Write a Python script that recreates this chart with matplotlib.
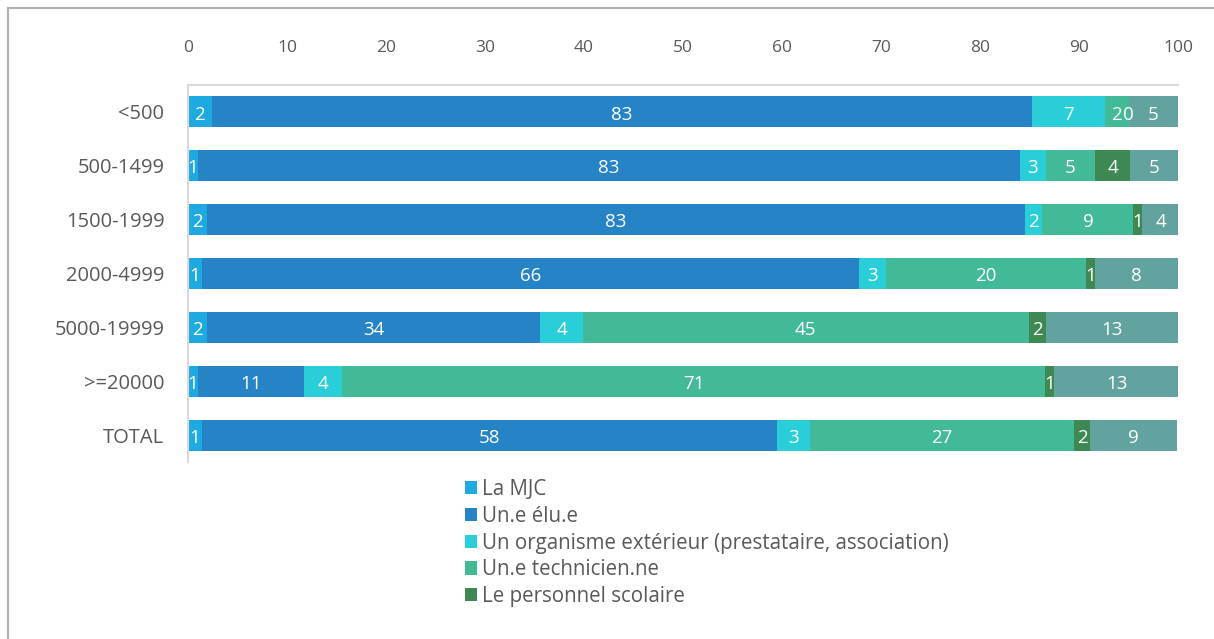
import matplotlib
matplotlib.use("Agg")
import matplotlib.pyplot as plt
from matplotlib.patches import Patch, Rectangle
import numpy as np

plt.rcParams['font.family'] = ['Open Sans', 'DejaVu Sans']

# categories (top to bottom)
categories = ['<500', '500-1499', '1500-1999', '2000-4999', '5000-19999', '>=20000', 'TOTAL']

# series values in %
mjc = [2.4, 1.0, 1.9, 1.4, 1.9, 1.0, 1.4]
elu = [82.9, 83.0, 82.6, 66.4, 33.7, 10.7, 58.1]
organisme = [7.3, 2.7, 1.8, 2.7, 4.3, 3.9, 3.3]
technicien = [2.4, 4.9, 9.2, 20.2, 45.0, 71.0, 26.7]
scolaire = [0.0, 3.6, 0.9, 0.9, 1.8, 0.9, 1.6]
autre = [5.0, 4.8, 3.7, 8.4, 13.3, 12.6, 8.8]

series_names = ['La MJC', 'Un.e élu.e', 'Un organisme extérieur (prestataire, association)',
                'Un.e technicien.ne', 'Le personnel scolaire', 'Autre']
series = [mjc, elu, organisme, technicien, scolaire, autre]
colors = ['#1FA9E1', '#2683C6', '#2ACED8', '#43BA97', '#3E8853', '#62A39F']

fig = plt.figure(figsize=(12.14, 6.39), dpi=100)
ax = fig.add_axes([188/1214, 1 - 462/639, 990/1214, 377/639])

y = np.arange(len(categories))
left = np.zeros(len(categories))
for vals, col in zip(series, colors):
    vals = np.array(vals)
    ax.barh(y, vals, left=left, height=0.575, color=col, edgecolor='none')
    for yi, (l, v) in enumerate(zip(left, vals)):
        lab = '%d' % int(round(v))
        ax.text(l + v / 2, yi + 0.05, lab, ha='center', va='center',
                color='white', fontsize=13.5)
    left += vals

ax.set_xlim(0, 100)
ax.set_ylim(len(categories) - 0.5, -0.5)
ax.set_yticks(y)
ax.set_yticklabels(categories, fontsize=14.5, color='#595959')
ax.set_xticks(range(0, 101, 10))
ax.xaxis.tick_top()
ax.tick_params(axis='x', length=0, pad=21, labelsize=12.5, labelcolor='#595959')
ax.tick_params(axis='y', length=0, pad=17)
for s in ['right', 'bottom']:
    ax.spines[s].set_visible(False)
for s in ['left', 'top']:
    ax.spines[s].set_color('#d9d9d9')
    ax.spines[s].set_linewidth(1.5)

handles = [Patch(facecolor=c, edgecolor='none') for c in colors[:5]]
fig.legend(handles, series_names[:5], loc='upper left',
           bbox_to_anchor=(465/1214, 1 - 479/639), frameon=False,
           handlelength=0.6, handleheight=0.6, handletextpad=0.25,
           labelspacing=0.28, fontsize=14.8, labelcolor='#595959',
           borderpad=0, borderaxespad=0)

# outer frame of the picture
fig.patches.append(Rectangle((8/1214, -0.1), 1.2, (639 - 8)/639 + 0.1,
                             transform=fig.transFigure, fill=False,
                             edgecolor='#b0b0b0', linewidth=1.5))

fig.savefig('out.png', dpi=100)
